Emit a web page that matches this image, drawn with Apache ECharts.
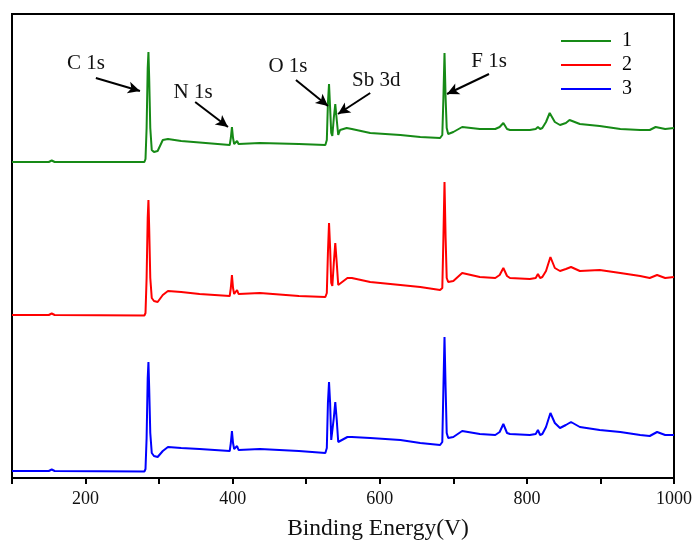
<!DOCTYPE html>
<html>
<head>
<meta charset="utf-8">
<script src="https://cdn.jsdelivr.net/npm/echarts@6/dist/echarts.min.js"></script>
<style>html,body{margin:0;padding:0;background:#fff;}#c{width:696px;height:543px;}</style>
</head>
<body>
<div id="c"></div>
<script>
// Binding energy (eV) / intensity (a.u., offset) pairs
const series1 = [[100,316],[150,316],[154,317.5],[158,316],[280,316],[281.5,319],[283,350],[284.5,410],[285.5,426],[286.5,400],[288,350],[290,328],[293,326],[298,327],[305,338],[312,339],[330,337],[355,335.5],[396,333],[397.5,340],[399,351],[400.5,340],[402,334],[404,335],[406,337],[408,334],[437,335],[490,334],[526,333],[528,338],[529.5,375],[531,394],[532.5,370],[534,345],[535.5,342],[537.5,360],[539.5,374],[541.5,358],[543.5,343],[546,348],[555,350],[562,349],[587,345],[628,343],[655,341],[682,340],[685,343],[686.5,380],[688,425],[689.5,380],[691,350],[693,344],[700,346],[712,351],[736,349],[757,349],[763,351],[768,355],[773,349],[777,348],[804,348],[812,349],[815,351],[818,349],[821,350],[826,356],[831,365],[838,356],[845,353],[853,355],[858,358],[872,354],[899,352],[927,349],[954,348],[967,348],[975,351],[988,349],[1000,350]];
const series2 = [[100,163],[150,163],[154,164.5],[158,163],[280,162.5],[281.5,165],[283,200],[284.5,260],[285.5,278],[286.5,250],[288,200],[290,180],[293,177],[298,176],[305,183],[312,187],[330,186],[355,184],[396,182],[397.5,190],[399,203],[400.5,190],[402,184],[404,186],[406,188],[408,184],[437,185],[490,182],[526,181],[528,185],[529.5,225],[531,255],[532.5,230],[534,195],[535.5,192],[537.5,215],[539.5,235],[541.5,215],[543.5,193],[546,195],[556,200],[562,200],[587,196],[628,193],[655,191],[682,188],[685,190],[686.5,240],[688,296],[689.5,240],[691,200],[693,196],[700,197],[712,205],[736,201],[757,200],[763,203],[768,210],[773,202],[777,200],[804,199],[812,200],[815,204],[818,200],[821,201],[826,207],[832,221],[838,210],[845,207],[853,209],[860,211],[872,207],[899,208],[927,205],[954,202],[967,200],[977,203],[988,200],[1000,201]];
const series3 = [[100,7],[150,7],[154,8.5],[158,7],[280,6.5],[281.5,9],[283,40],[284.5,100],[285.5,116],[286.5,90],[288,45],[290,25],[293,22],[298,21],[305,27],[312,31],[330,30],[355,29],[396,27],[397.5,35],[399,47],[400.5,35],[402,29],[404,30],[406,32],[408,28],[437,29],[490,27],[526,25],[528,30],[529.5,75],[531,96],[532.5,75],[534,38],[535.5,36],[537.5,60],[539.5,76],[541.5,58],[543.5,36],[546,37],[556,41],[562,41],[587,40],[628,38],[655,35],[682,33],[685,36],[686.5,90],[688,141],[689.5,90],[691,45],[693,40],[700,41],[712,47],[736,44],[757,43],[763,46],[768,54],[773,45],[777,44],[804,43],[812,44],[815,48],[818,43],[821,44],[826,51],[832,65],[838,55],[845,50],[853,53],[860,56],[872,51],[899,48],[927,46],[954,43],[967,42],[977,46],[988,43],[1000,43]];
const seriesNames = ['1','2','3'];
const xTicks = [200,400,600,800,1000];
// annotation arrows: [label, fromX, fromY, toX, toY] in data units
const arrows = [
  ['C 1s', 214, 400, 274, 387],
  ['N 1s', 349, 376, 393.6, 351],
  ['O 1s', 486, 398, 529.6, 372],
  ['Sb 3d', 587, 385, 543.2, 364],
  ['F 1s', 748.5, 404, 691.4, 384]
];

const serif = '"Liberation Serif","DejaVu Serif",serif';
const chart = echarts.init(document.getElementById('c'), null, {renderer:'canvas'});
const colors = ['#168a16','#ff0000','#0000ff'];
const datas = [series1, series2, series3];

const option = {
  animation:false,
  backgroundColor:'#fff',
  grid:{left:12, right:22, top:14, bottom:65, show:true, borderColor:'#000', borderWidth:2,
        containLabel:false, outerBoundsMode:'none'},
  legend:{
    data:seriesNames.map(function(n){return {name:n, icon:'rect'};}),
    orient:'vertical', left:556, top:26,
    itemWidth:50, itemHeight:2, itemGap:4,
    textStyle:{fontFamily:serif, fontSize:20, color:'#000', padding:[0,0,0,6]}
  },
  xAxis:{
    type:'value', min:100, max:1000, interval:100,
    axisLine:{show:true, lineStyle:{color:'#000', width:2}},
    axisTick:{show:true, inside:false, length:6, lineStyle:{color:'#000', width:2}},
    splitLine:{show:false},
    axisLabel:{fontFamily:serif, fontSize:18, color:'#111', margin:12,
      formatter:function(v){return xTicks.indexOf(v)>=0 ? String(v) : '';}},
    name:'Binding Energy(V)', nameLocation:'middle', nameGap:39,
    nameTextStyle:{fontFamily:serif, fontSize:23.5, color:'#111', padding:[0,0,0,70]}
  },
  yAxis:{
    type:'value', min:0, max:464,
    axisLine:{show:false}, axisTick:{show:false}, axisLabel:{show:false}, splitLine:{show:false}
  },
  series: datas.map(function(d,i){
    const s = {
      name:seriesNames[i], type:'line', data:d, symbol:'none', showSymbol:false,
      lineStyle:{color:colors[i], width:2}, itemStyle:{color:colors[i]}, z:2
    };
    if(i===0){
      s.markLine = {
        silent:true, animation:false,
        symbol:['none','arrow'], symbolSize:[9,12],
        lineStyle:{color:'#000', width:2, type:'solid'},
        label:{show:false},
        data: arrows.map(function(a){ return [{coord:[a[1],a[2]]},{coord:[a[3],a[4]]}]; })
      };
    }
    return s;
  })
};
chart.setOption(option);

// annotation labels positioned from data coordinates of arrow tails
const labelOffsets = {'C 1s':[-10,-15],'N 1s':[-2,-10],'O 1s':[-8,-14],'Sb 3d':[6,-13],'F 1s':[0,-13]};
const texts = arrows.map(function(a){
  const p = chart.convertToPixel({gridIndex:0}, [a[1],a[2]]);
  const off = labelOffsets[a[0]];
  return {type:'text', x:p[0]+off[0], y:p[1]+off[1],
    style:{text:a[0], fontFamily:serif, fontSize:21, fill:'#111', align:'center', verticalAlign:'middle'}, z:10};
});
chart.setOption({graphic:texts});
</script>
</body>
</html>
